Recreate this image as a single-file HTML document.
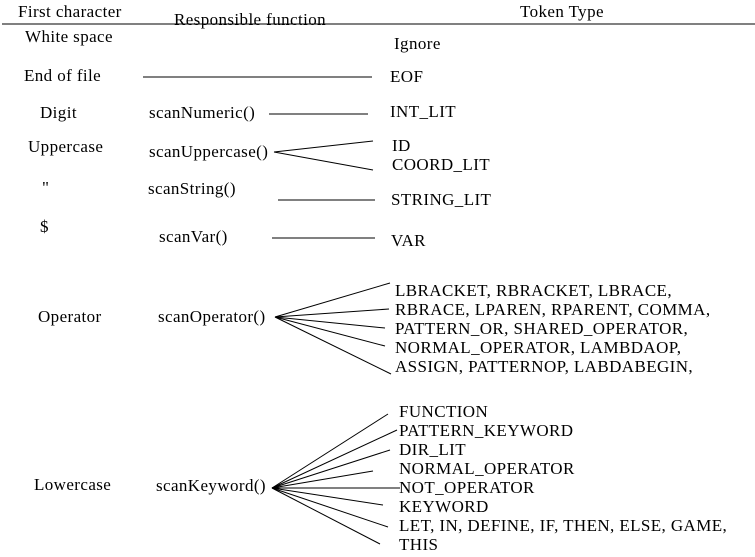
<!DOCTYPE html>
<html><head><meta charset="utf-8"><style>
html,body{margin:0;padding:0;background:#fff;}
svg{display:block;}
text{font-family:"Liberation Serif",serif;font-size:17px;letter-spacing:0.4px;fill:#000;}
line{stroke:#000;stroke-width:1;}
</style></head><body>
<svg width="755" height="557" viewBox="0 0 755 557">
<line x1="2" y1="24" x2="755" y2="24"/>
<text x="18" y="17">First character</text>
<text x="174" y="25">Responsible function</text>
<text x="520" y="17">Token Type</text>

<text x="25" y="42">White space</text>
<text x="394" y="49">Ignore</text>

<text x="24" y="81">End of file</text>
<line x1="143" y1="77" x2="372" y2="77"/>
<text x="390" y="82">EOF</text>

<text x="40" y="118">Digit</text>
<text x="149" y="118">scanNumeric()</text>
<line x1="269" y1="114" x2="368" y2="114"/>
<text x="390" y="117">INT_LIT</text>

<text x="28" y="152">Uppercase</text>
<text x="149" y="157">scanUppercase()</text>
<line x1="274" y1="152" x2="373" y2="141"/>
<line x1="274" y1="152" x2="373" y2="170"/>
<text x="392" y="151">ID</text>
<text x="392" y="170">COORD_LIT</text>

<text x="42" y="193">"</text>
<text x="148" y="194">scanString()</text>
<line x1="278" y1="200" x2="375" y2="200"/>
<text x="391" y="205">STRING_LIT</text>

<text x="40" y="232">$</text>
<text x="159" y="242">scanVar()</text>
<line x1="272" y1="238" x2="375" y2="238"/>
<text x="391" y="246">VAR</text>

<text x="38" y="322">Operator</text>
<text x="158" y="322">scanOperator()</text>
<line x1="275" y1="317" x2="390" y2="283"/>
<line x1="275" y1="317" x2="389" y2="309"/>
<line x1="275" y1="317" x2="385" y2="328"/>
<line x1="275" y1="317" x2="385" y2="346"/>
<line x1="275" y1="317" x2="391" y2="374"/>
<text x="395" y="296">LBRACKET, RBRACKET, LBRACE,</text>
<text x="395" y="315">RBRACE, LPAREN, RPARENT, COMMA,</text>
<text x="395" y="334">PATTERN_OR, SHARED_OPERATOR,</text>
<text x="395" y="353">NORMAL_OPERATOR, LAMBDAOP,</text>
<text x="395" y="372">ASSIGN, PATTERNOP, LABDABEGIN,</text>

<text x="34" y="490">Lowercase</text>
<text x="156" y="491">scanKeyword()</text>
<line x1="272" y1="488" x2="388" y2="414"/>
<line x1="272" y1="488" x2="397" y2="430"/>
<line x1="272" y1="488" x2="390" y2="450"/>
<line x1="272" y1="488" x2="373" y2="471"/>
<line x1="272" y1="488" x2="400" y2="488"/>
<line x1="272" y1="488" x2="383" y2="505"/>
<line x1="272" y1="488" x2="388" y2="527"/>
<line x1="272" y1="488" x2="380" y2="544"/>
<text x="399" y="417">FUNCTION</text>
<text x="399" y="436">PATTERN_KEYWORD</text>
<text x="399" y="455">DIR_LIT</text>
<text x="399" y="474">NORMAL_OPERATOR</text>
<text x="399" y="493">NOT_OPERATOR</text>
<text x="399" y="512">KEYWORD</text>
<text x="399" y="531">LET, IN, DEFINE, IF, THEN, ELSE, GAME,</text>
<text x="399" y="550">THIS</text>
</svg>
</body></html>
